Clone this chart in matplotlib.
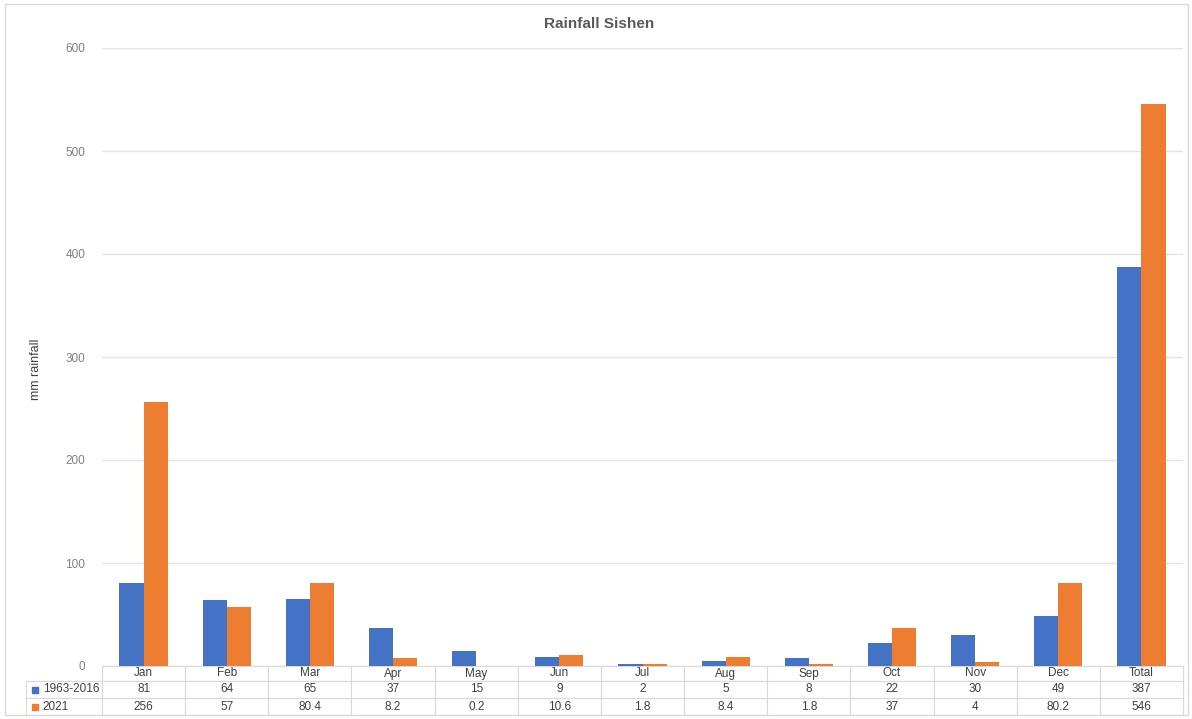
import numpy as np
import matplotlib.pyplot as plt
from matplotlib.patches import Rectangle

plt.rcParams['font.family'] = ['Liberation Sans', 'DejaVu Sans']

# data
months = ['Jan', 'Feb', 'Mar', 'Apr', 'May', 'Jun', 'Jul', 'Aug', 'Sep', 'Oct', 'Nov', 'Dec', 'Total']
series_names = ['1963-2016', '2021']
long_term = [81, 64, 65, 37, 15, 9, 2, 5, 8, 22, 30, 49, 387]
year_2021 = [256, 57, 80.4, 8.2, 0.2, 10.6, 1.8, 8.4, 1.8, 37, 4, 80.2, 546]
long_term_txt = ['81', '64', '65', '37', '15', '9', '2', '5', '8', '22', '30', '49', '387']
year_2021_txt = ['256', '57', '80.4', '8.2', '0.2', '10.6', '1.8', '8.4', '1.8', '37', '4', '80.2', '546']
colors = ['#4472C4', '#ED7D31']

W, H = 1192, 719
fig = plt.figure(figsize=(W / 100, H / 100), dpi=100)
ax = fig.add_axes([102 / W, 1 - 666 / H, (1183 - 102) / W, (666 - 48) / H])

x = np.arange(len(months))
w = 0.29
ax.bar(x - w / 2, long_term, w, color=colors[0], zorder=3)
ax.bar(x + w / 2, year_2021, w, color=colors[1], zorder=3)

ax.set_xlim(-0.5, len(months) - 0.5)
ax.set_ylim(0, 600)
ax.set_yticks(range(0, 601, 100))
ax.set_xticks([])
ax.grid(axis='y', color='#E3E3E3', linewidth=1, zorder=0)
for s in ax.spines.values():
    s.set_visible(False)
ax.tick_params(axis='y', length=0, pad=12, labelsize=8.5, labelcolor='#7F7F7F')

ax.set_ylabel('mm rainfall', fontsize=9, color='#404040',
              family=['Liberation Sans Narrow', 'Liberation Sans'])
ax.yaxis.set_label_coords(-60 / 1081, 0.48)

fig.text(0.503, 1 - 24 / H, 'Rainfall Sishen', ha='center', va='center',
         fontsize=11, fontweight='bold', color='#595959')

# data table under the plot
ax_w = 1081
lab_w = 76
rows = [[''] + months,
        [series_names[0]] + long_term_txt,
        [series_names[1]] + year_2021_txt]
h = 49 / 618
tbl = ax.table(cellText=rows, cellLoc='center',
               colWidths=[lab_w / ax_w] + [1 / len(months)] * len(months),
               bbox=[-lab_w / ax_w, -h, 1 + lab_w / ax_w, h])
tbl.auto_set_font_size(False)
for (r, c), cell in tbl.get_celld().items():
    cell.set_edgecolor('#D9D9D9')
    cell.set_linewidth(0.8)
    cell.get_text().set_fontsize(8.5)
    cell.get_text().set_color('#404040')
    if r == 0 and c == 0:
        cell.visible_edges = ''
    if c == 0 and r > 0:
        cell.get_text().set_ha('left')
        cell._loc = 'left'
        cell.PAD = 0.22
for r in range(3):
    for c in range(len(months) + 1):
        tbl[r, c].set_height(15 / 49 if r == 0 else 17 / 49)

# legend keys in the table
for i, col in enumerate(colors):
    yk = -h + (17 * (1 - i) + 8.5) / 618
    ax.scatter([-67 / ax_w], [yk], marker='s', s=18, color=col,
               transform=ax.transAxes, clip_on=False, zorder=5)

# outer chart border
fig.patches.append(Rectangle((5 / W, 4 / H), 1183 / W, 711 / H, transform=fig.transFigure,
                             fill=False, edgecolor='#D9D9D9', linewidth=1))

fig.savefig('out.png', dpi=100)
